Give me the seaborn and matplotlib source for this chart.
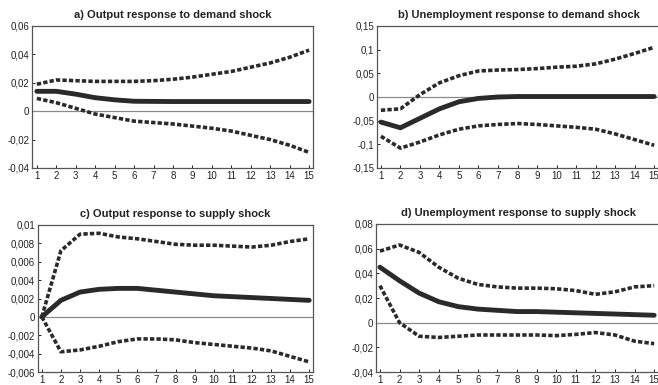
import numpy as np
import pandas as pd
import matplotlib
matplotlib.use("Agg")
import matplotlib.pyplot as plt
from matplotlib.ticker import FixedLocator, FixedFormatter
import seaborn as sns

horizon = list(range(1, 16))

# a) Output response to demand shock
a_mid = [0.014, 0.014, 0.012, 0.0095, 0.008, 0.007, 0.0069, 0.0068, 0.0068, 0.0068, 0.0068, 0.0068, 0.0068, 0.0068, 0.0068]
a_up = [0.019, 0.022, 0.0215, 0.021, 0.021, 0.021, 0.0215, 0.0225, 0.024, 0.026, 0.028, 0.031, 0.034, 0.038, 0.043]
a_lo = [0.009, 0.006, 0.002, -0.002, -0.0045, -0.007, -0.008, -0.009, -0.0105, -0.012, -0.014, -0.017, -0.020, -0.024, -0.029]

# b) Unemployment response to demand shock
b_mid = [-0.053, -0.065, -0.045, -0.025, -0.01, -0.003, 0.0, 0.001, 0.001, 0.001, 0.001, 0.001, 0.001, 0.001, 0.001]
b_up = [-0.028, -0.025, 0.005, 0.03, 0.045, 0.055, 0.057, 0.058, 0.06, 0.063, 0.065, 0.07, 0.08, 0.092, 0.105]
b_lo = [-0.083, -0.108, -0.095, -0.08, -0.068, -0.061, -0.058, -0.056, -0.058, -0.061, -0.064, -0.068, -0.078, -0.09, -0.102]

# c) Output response to supply shock
c_mid = [0.0, 0.0018, 0.0027, 0.003, 0.0031, 0.0031, 0.0029, 0.0027, 0.0025, 0.0023, 0.0022, 0.0021, 0.002, 0.0019, 0.0018]
c_up = [0.0, 0.0072, 0.009, 0.0091, 0.0087, 0.0085, 0.0082, 0.0079, 0.0078, 0.0078, 0.0077, 0.0076, 0.0078, 0.0082, 0.0085]
c_lo = [0.0, -0.0038, -0.0036, -0.0032, -0.0027, -0.0024, -0.0024, -0.0025, -0.0028, -0.003, -0.0032, -0.0034, -0.0037, -0.0043, -0.0049]

# d) Unemployment response to supply shock
d_mid = [0.045, 0.034, 0.024, 0.017, 0.013, 0.011, 0.010, 0.009, 0.009, 0.0085, 0.008, 0.0075, 0.007, 0.0065, 0.006]
d_up = [0.058, 0.063, 0.057, 0.045, 0.036, 0.031, 0.029, 0.028, 0.028, 0.0275, 0.026, 0.023, 0.025, 0.029, 0.030]
d_lo = [0.030, 0.0, -0.011, -0.012, -0.011, -0.010, -0.010, -0.010, -0.010, -0.0105, -0.0095, -0.008, -0.010, -0.015, -0.017]

titles = [
    "a) Output response to demand shock",
    "b) Unemployment response to demand shock",
    "c) Output response to supply shock",
    "d) Unemployment response to supply shock",
]

yticks_a = [-0.04, -0.02, 0, 0.02, 0.04, 0.06]
ylabels_a = ["-0,04", "-0,02", "0", "0,02", "0,04", "0,06"]
yticks_b = [-0.15, -0.1, -0.05, 0, 0.05, 0.1, 0.15]
ylabels_b = ["-0,15", "-0,1", "-0,05", "0", "0,05", "0,1", "0,15"]
yticks_c = [-0.006, -0.004, -0.002, 0, 0.002, 0.004, 0.006, 0.008, 0.01]
ylabels_c = ["-0,006", "-0,004", "-0,002", "0", "0,002", "0,004", "0,006", "0,008", "0,01"]
yticks_d = [-0.04, -0.02, 0, 0.02, 0.04, 0.06, 0.08]
ylabels_d = ["-0,04", "-0,02", "0", "0,02", "0,04", "0,06", "0,08"]

sns.set_style("ticks")
plt.rcParams["font.family"] = ["Liberation Sans", "DejaVu Sans"]

W, H = 658, 385
fig = plt.figure(figsize=(W / 100, H / 100), dpi=100)
fig.patch.set_facecolor("white")


def box(l, t, r, b):
    return [l / W, 1 - b / H, (r - l) / W, (b - t) / H]


panels = [
    (box(32, 26, 313, 168), (a_mid, a_up, a_lo), yticks_a, ylabels_a, (0.75, 15.2)),
    (box(377, 26, 661, 168), (b_mid, b_up, b_lo), yticks_b, ylabels_b, (0.8, 15.35)),
    (box(38, 225, 313, 372), (c_mid, c_up, c_lo), yticks_c, ylabels_c, (0.8, 15.2)),
    (box(376, 224, 661, 372), (d_mid, d_up, d_lo), yticks_d, ylabels_d, (0.8, 15.35)),
]

line_col = "#2a2a2a"
for (rect, (mid, up, lo), yt, yl, xl), title in zip(panels, titles):
    ax = fig.add_axes(rect)
    ax.axhline(0, color="#8a8a8a", lw=0.9, zorder=1)
    df = pd.DataFrame({"h": horizon, "mid": mid, "up": up, "lo": lo})
    for col in ("up", "lo"):
        sns.lineplot(data=df, x="h", y=col, ax=ax, color=line_col, lw=2.6,
                     dashes=False, zorder=3)
        ax.lines[-1].set_dashes((1.2, 0.6))
    sns.lineplot(data=df, x="h", y="mid", ax=ax, color=line_col, lw=3.5, zorder=4)
    ax.set_xlim(*xl)
    ax.set_ylim(yt[0], yt[-1])
    ax.xaxis.set_major_locator(FixedLocator(horizon))
    ax.set_xticklabels([str(h) for h in horizon])
    ax.yaxis.set_major_locator(FixedLocator(yt))
    ax.yaxis.set_major_formatter(FixedFormatter(yl))
    ax.set_xlabel("")
    ax.set_ylabel("")
    ax.tick_params(direction="in", length=2.5, width=0.7, labelsize=7, colors="#222222",
                   pad=2)
    for s in ax.spines.values():
        s.set_color("#555555")
        s.set_linewidth(0.9)
    ax.set_title(title, fontsize=8, fontweight="bold", color="#222222", pad=6)

fig.savefig("out.png", dpi=100, facecolor="white")
